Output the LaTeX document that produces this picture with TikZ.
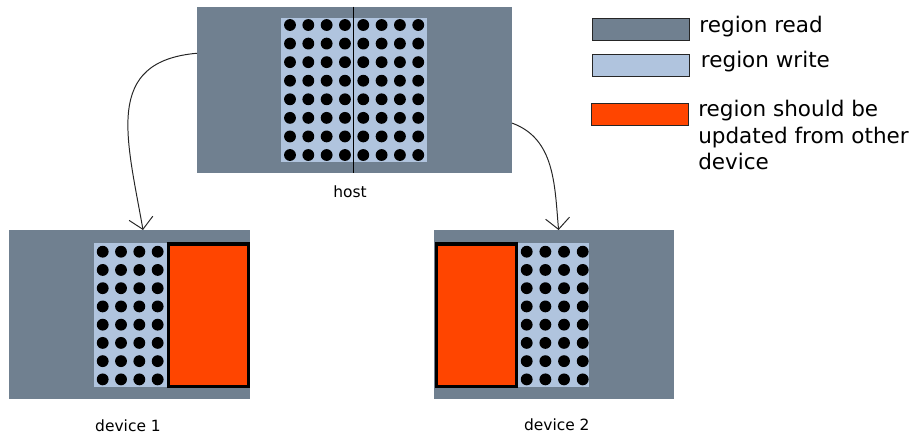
\documentclass[tikz,border=0pt]{standalone}
\usepackage{fontspec}
\setmainfont{DejaVu Sans}
\usepackage{xcolor}
\usepackage{tikz}
\usetikzlibrary{arrows.meta}
\definecolor{readgray}{HTML}{708090}
\definecolor{writeblue}{HTML}{B0C4DE}
\definecolor{updorange}{HTML}{FF4500}

\begin{document}
\begin{tikzpicture}[
    >={Straight Barb[length=0.28cm, width=0.6cm]},
    region/.style={fill=#1, inner sep=0pt, outer sep=0pt},
    stale/.style={region=updorange, draw=black, line width=2.4pt},
    keybox/.style={fill=#1, draw=black!85, line width=0.7pt, minimum width=2.43cm, minimum height=0.56cm, inner sep=0pt},
    keytext/.style={anchor=west, inner sep=0pt, align=left, font=\fontsize{15.3}{19}\selectfont},
    caption/.style={inner sep=0pt, font=\fontsize{11}{13}\selectfont},
    flow/.style={->, line width=0.7pt, black!85},
]
    \useasboundingbox (0,0) rectangle (22.925,-10.9);

    % Host buffer
    \node[region=readgray, minimum width=7.875cm, minimum height=4.145cm] (host) at (8.8625,-2.24) {};
    \node[region=writeblue, minimum width=3.6575cm, minimum height=3.6cm] (hostwr) at (8.846,-2.2575) {};
    \foreach \i in {0,...,7}
        \foreach \j in {0,...,7}
            \fill ({7.25+0.458*\i}, {-0.625-0.4643*\j}) circle (0.148);
    \draw[line width=0.7pt] (hostwr.center |- host.north) -- (hostwr.center |- host.south);
    \node[caption] (hostlbl) at (8.75,-4.79) {host};

    % Device 1
    \node[region=readgray, minimum width=6.0175cm, minimum height=4.225cm] (dev1) at (3.241,-7.8625) {};
    \node[region=writeblue, minimum width=1.81cm, minimum height=3.6cm] (d1wr) at (3.2625,-7.8675) {};
    \foreach \i in {0,...,3}
        \foreach \j in {0,...,7}
            \fill ({2.5675+0.458*\i}, {-6.2925-0.456*\j}) circle (0.148);
    \node[stale, minimum width=1.995cm, minimum height=3.56cm] (d1stale) at (5.2125,-7.88) {};
    \node[caption] (dev1lbl) at (3.2,-10.655) {device 1};

    % Device 2
    \node[region=readgray, minimum width=6.0075cm, minimum height=4.2175cm] (dev2) at (13.854,-7.859) {};
    \node[stale, minimum width=1.9925cm, minimum height=3.56cm] (d2stale) at (11.909,-7.88) {};
    \node[region=writeblue, minimum width=1.79cm, minimum height=3.6cm] (d2wr) at (13.8375,-7.8675) {};
    \foreach \i in {0,...,3}
        \foreach \j in {0,...,7}
            \fill ({13.1675+0.4667*\i}, {-6.2925-0.456*\j}) circle (0.148);
    \node[caption] (dev2lbl) at (13.92,-10.61) {device 2};

    % Copies to the devices
    \draw[flow] (host.167) to[out=185, in=100, looseness=1.3] (dev1.81);
    \draw[flow] (host.-12) to[out=-20, in=95] (dev2.87);

    % Legend
    \node[keybox=readgray] (keyread) at (16.034,-0.7375) {};
    \node[keybox=writeblue] (keywrite) at (16.034,-1.6375) {};
    \node[keybox=updorange] (keystale) at (16.009,-2.866) {};
    \node[keytext] (readtxt) at (17.48,-0.6625) {region read};
    \node[keytext] (writetxt) at (17.5175,-1.55) {region write};
    \node[keytext] (staletxt) at (17.45,-3.375) {region should be\\updated from other\\device};

\end{tikzpicture}
\end{document}
